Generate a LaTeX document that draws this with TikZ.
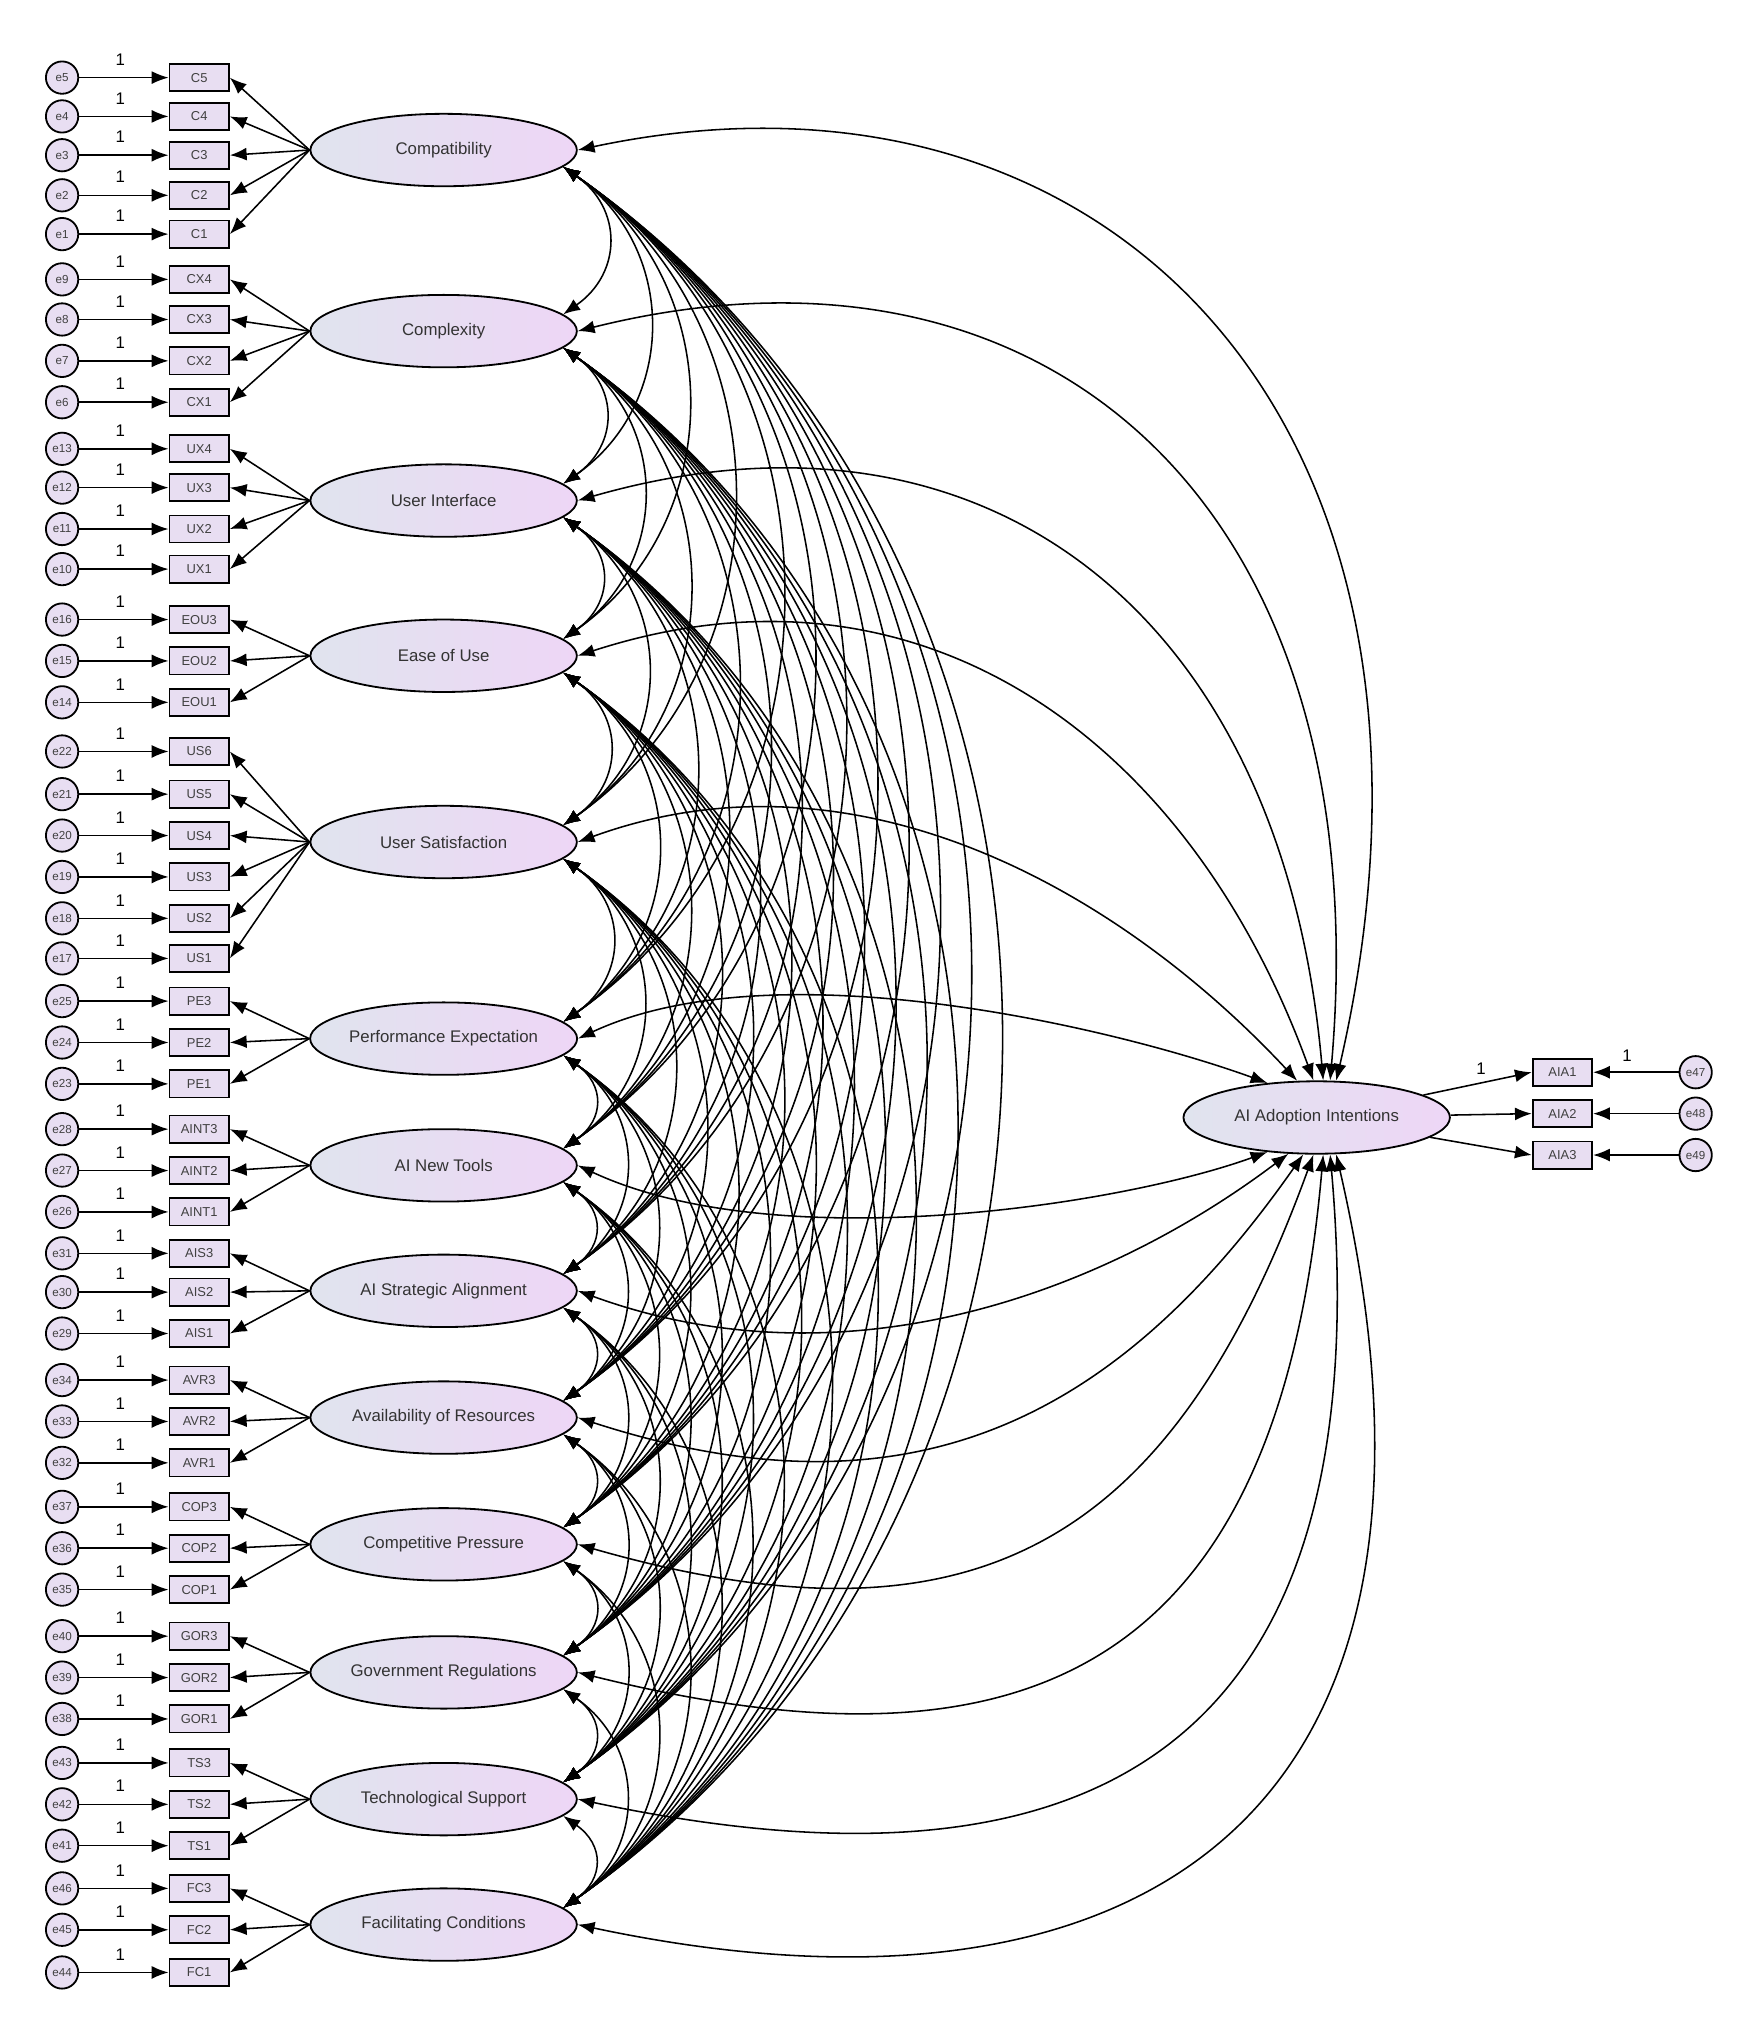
\documentclass[tikz,border=0pt]{standalone}
\usepackage{fontspec}
\setmainfont{Liberation Sans}
\usetikzlibrary{arrows.meta,shapes.geometric}
\definecolor{lleft}{RGB}{224,228,238}
\definecolor{lright}{RGB}{238,214,246}
\definecolor{boxc}{RGB}{232,222,242}
\tikzset{
 lat/.style={ellipse,draw,line width=1.4pt,minimum width=206pt,minimum height=56pt,inner sep=0pt,left color=lleft,right color=lright,font=\fontsize{13}{13}\selectfont,text=black!80},
 obs/.style={rectangle,draw,line width=1.4pt,minimum width=46pt,minimum height=21pt,inner sep=0pt,fill=boxc,font=\fontsize{10}{10}\selectfont,text=black!75},
 errc/.style={circle,draw,line width=1.4pt,minimum size=25pt,inner sep=0pt,fill=boxc,font=\fontsize{9}{9}\selectfont,text=black!75},
 arr/.style={line width=1.2pt,-{Latex[length=13pt,width=10pt]}},
 cov/.style={line width=1.2pt,{Latex[length=13pt,width=10pt]}-{Latex[length=13pt,width=10pt]}},
 one/.style={font=\fontsize{13}{13}\selectfont}
}
\newcommand\ind[4]{%
 \node[obs] (#2) at (154,-#3) {#2};
 \node[errc] (#4) at (48,-#3) {#4};
 \draw[arr] (#4) -- (#2);
 \node[one] at (93,-#3+14) {1};
 \draw[arr] (#1.west) -- (#2.east);
}
\begin{document}
\begin{tikzpicture}[x=1pt,y=1pt]
\useasboundingbox (0,0) rectangle (1350,-1561);
\node[lat] (L1) at (343,-116) {Compatibility};
\node[lat] (L2) at (343,-256) {Complexity};
\node[lat] (L3) at (343,-387) {User Interface};
\node[lat] (L4) at (343,-507) {Ease of Use};
\node[lat] (L5) at (343,-651) {User Satisfaction};
\node[lat] (L6) at (343,-803) {Performance Expectation};
\node[lat] (L7) at (343,-901) {AI New Tools};
\node[lat] (L8) at (343,-998) {AI Strategic Alignment};
\node[lat] (L9) at (343,-1096) {Availability of Resources};
\node[lat] (L10) at (343,-1194) {Competitive Pressure};
\node[lat] (L11) at (343,-1293) {Government Regulations};
\node[lat] (L12) at (343,-1391) {Technological Support};
\node[lat] (L13) at (343,-1488) {Facilitating Conditions};
\node[lat] (AIA) at (1018,-864) {AI Adoption Intentions};
\ind{L1}{C5}{60}{e5}\ind{L1}{C4}{90}{e4}\ind{L1}{C3}{120}{e3}\ind{L1}{C2}{151}{e2}\ind{L1}{C1}{181}{e1}
\ind{L2}{CX4}{216}{e9}\ind{L2}{CX3}{247}{e8}\ind{L2}{CX2}{279}{e7}\ind{L2}{CX1}{311}{e6}
\ind{L3}{UX4}{347}{e13}\ind{L3}{UX3}{377}{e12}\ind{L3}{UX2}{409}{e11}\ind{L3}{UX1}{440}{e10}
\ind{L4}{EOU3}{479}{e16}\ind{L4}{EOU2}{511}{e15}\ind{L4}{EOU1}{543}{e14}
\ind{L5}{US6}{581}{e22}\ind{L5}{US5}{614}{e21}\ind{L5}{US4}{646}{e20}\ind{L5}{US3}{678}{e19}\ind{L5}{US2}{710}{e18}\ind{L5}{US1}{741}{e17}
\ind{L6}{PE3}{774}{e25}\ind{L6}{PE2}{806}{e24}\ind{L6}{PE1}{838}{e23}
\ind{L7}{AINT3}{873}{e28}\ind{L7}{AINT2}{905}{e27}\ind{L7}{AINT1}{937}{e26}
\ind{L8}{AIS3}{969}{e31}\ind{L8}{AIS2}{999}{e30}\ind{L8}{AIS1}{1031}{e29}
\ind{L9}{AVR3}{1067}{e34}\ind{L9}{AVR2}{1099}{e33}\ind{L9}{AVR1}{1131}{e32}
\ind{L10}{COP3}{1165}{e37}\ind{L10}{COP2}{1197}{e36}\ind{L10}{COP1}{1229}{e35}
\ind{L11}{GOR3}{1265}{e40}\ind{L11}{GOR2}{1297}{e39}\ind{L11}{GOR1}{1329}{e38}
\ind{L12}{TS3}{1363}{e43}\ind{L12}{TS2}{1395}{e42}\ind{L12}{TS1}{1427}{e41}
\ind{L13}{FC3}{1460}{e46}\ind{L13}{FC2}{1492}{e45}\ind{L13}{FC1}{1525}{e44}
% AIA indicators
\foreach \n/\y/\e in {AIA1/829/e47,AIA2/861/e48,AIA3/893/e49}{
 \node[obs] (\n) at (1208,-\y) {\n};
 \node[errc] (\e) at (1311,-\y) {\e};
 \draw[arr] (\e) -- (\n);
 \draw[arr] (AIA) -- (\n.west);
}
\node[one] at (1258,-816) {1};
\node[one] at (1145,-826) {1};
% covariances among exogenous latents
\def\lys{{116,256,387,507,651,803,901,998,1096,1194,1293,1391,1488}}
\foreach \i in {1,...,12}{
 \pgfmathtruncatemacro\ii{\i+1}
 \foreach \j in {\ii,...,13}{
  \pgfmathsetmacro\c{0.4*(\lys[\j-1]-\lys[\i-1])}
  \draw[cov] (L\i.-8) .. controls +(-35:\c) and +(35:\c) .. (L\j.8);
 }
}
% covariances with AI Adoption Intentions
\foreach \i/\a/\o/\ca/\cb in {1/62/12/420/520,2/70/14/380/440,3/80/16/330/360,4/95/18/280/280,5/118/20/230/200,6/145/25/170/120}{
 \pgfmathsetmacro\ai{\a+15}
 \draw[cov] (L\i.east) .. controls +(\o:\ca) and +(\ai:\cb) .. (AIA.\a);
}
\foreach \i/\a/\o/\ca/\cb in {7/215/-25/170/120,8/232/-20/220/180,9/250/-18/270/250,10/265/-16/320/320,11/280/-14/360/400,12/290/-12/400/470,13/298/-12/430/540}{
 \pgfmathsetmacro\ai{\a-15}
 \draw[cov] (L\i.east) .. controls +(\o:\ca) and +(\ai:\cb) .. (AIA.\a);
}
\end{tikzpicture}
\end{document}
